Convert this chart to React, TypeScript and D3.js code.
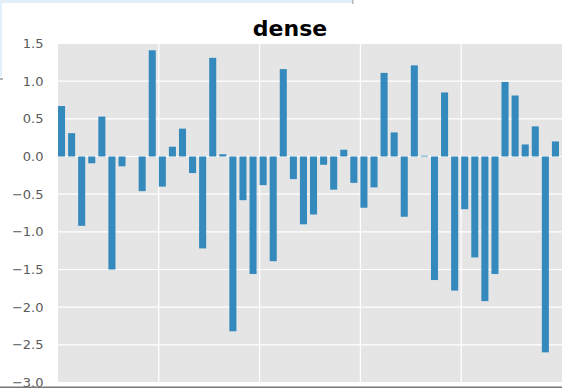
import React from "react";
import * as d3 from "d3";

// bar heights, read left to right (50 bars)
const values = [
  0.67, 0.31, -0.92, -0.09, 0.53, -1.5, -0.13, 0.0, -0.46, 1.41,
  -0.4, 0.13, 0.37, -0.22, -1.22, 1.31, 0.03, -2.32, -0.58, -1.56,
  -0.38, -1.39, 1.16, -0.3, -0.9, -0.77, -0.11, -0.44, 0.09, -0.35,
  -0.68, -0.41, 1.11, 0.32, -0.8, 1.21, 0.01, -1.64, 0.85, -1.78,
  -0.7, -1.34, -1.92, -1.56, 0.99, 0.81, 0.16, 0.4, -2.6, 0.2,
];
const yTicks = [1.5, 1.0, 0.5, 0.0, -0.5, -1.0, -1.5, -2.0, -2.5, -3.0];
const xTicks = [10, 20, 30, 40];
const title = "dense";

const width = 562;
const height = 388;
const BAR_COLOR = "#348ABD";
const BG = "#E5E5E5";

const App = () => {
  const x = d3.scaleLinear().domain([0, values.length]).range([58, 562]);
  const y = d3.scaleLinear().domain([-3, 1.5]).range([382.5, 43.5]);
  const fmt = (v: number) => d3.format(".1f")(v).replace("-", "\u2212");
  const barW = x(0.7) - x(0);

  return (
    <svg
      width={width}
      height={height}
      style={{ position: "absolute", left: 0, top: 0, background: "#fff" }}
      fontFamily="DejaVu Sans, sans-serif"
    >
      {/* leftover screenshot border */}
      <rect x={0} y={0} width={352} height={3} fill="#e3f0fa" />
      <rect x={352} y={0} width={1.5} height={4} fill="#b8b8b8" />
      <rect x={0} y={0} width={2} height={77} fill="#e3f0fa" />
      <rect x={0} y={78.5} width={3} height={1} fill="#666" />

      <rect x={x(0)} y={y(1.5)} width={x(values.length) - x(0)} height={y(-3) - y(1.5)} fill={BG} />
      {yTicks.map((t) => (
        <line key={"gy" + t} x1={x(0)} x2={x(values.length)} y1={y(t)} y2={y(t)} stroke="#fff" strokeWidth={1.2} />
      ))}
      {xTicks.map((t) => (
        <line key={"gx" + t} x1={x(t)} x2={x(t)} y1={y(1.5)} y2={y(-3)} stroke="#fff" strokeWidth={1.2} />
      ))}

      {values.map((v, i) => (
        <rect
          key={i}
          x={x(i)}
          y={y(Math.max(0, v))}
          width={barW}
          height={Math.abs(y(v) - y(0))}
          fill={BAR_COLOR}
        />
      ))}

      {yTicks.map((t) => (
        <text
          key={"ty" + t}
          x={43.5}
          y={y(t)}
          textAnchor="end"
          dominantBaseline="central"
          fontSize={13}
          fill="#5a5a5a"
        >
          {fmt(t)}
        </text>
      ))}

      <text x={290} y={36} textAnchor="middle" fontSize={22} fontWeight="bold" fill="#000">
        {title}
      </text>

      <rect x={0} y={386.5} width={width} height={1.5} fill="#777" />
    </svg>
  );
};

export default App;
